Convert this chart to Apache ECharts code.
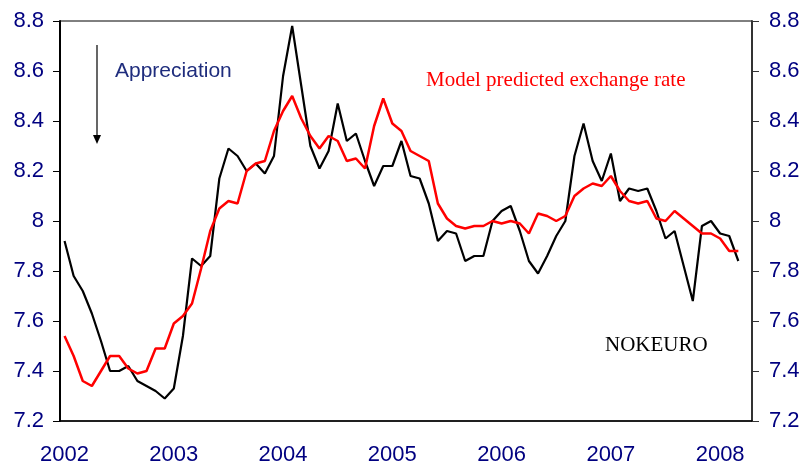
<!DOCTYPE html>
<html>
<head>
<meta charset="utf-8">
<script src="https://cdn.jsdelivr.net/npm/echarts@6/dist/echarts.min.js"></script>
<style>
  html, body { margin: 0; padding: 0; background: #fff; }
  #chart { width: 803px; height: 471px; }
</style>
</head>
<body>
<div id="chart"></div>
<script>
// monthly NOK/EUR, Jan 2002 .. Mar 2008 (axis runs to Apr 2008)
var years = ['2002', '2003', '2004', '2005', '2006', '2007', '2008'];
var months = [];
years.forEach(function (y) {
    for (var m = 1; m <= 12; m++) {
        if (months.length < 76) months.push(y + '-' + (m < 10 ? '0' + m : m));
    }
});

var actual = [
    7.92, 7.78, 7.72, 7.63, 7.52, 7.40, 7.40, 7.42, 7.36, 7.34, 7.32, 7.29,
    7.33, 7.54, 7.85, 7.82, 7.86, 8.17, 8.29, 8.26, 8.20, 8.23, 8.19, 8.26,
    8.58, 8.78, 8.54, 8.30, 8.21, 8.28, 8.47, 8.32, 8.35, 8.24, 8.14, 8.22,
    8.22, 8.32, 8.18, 8.17, 8.07, 7.92, 7.96, 7.95, 7.84, 7.86, 7.86, 8.00,
    8.04, 8.06, 7.96, 7.84, 7.79, 7.86, 7.94, 8.00, 8.26, 8.39, 8.24, 8.16,
    8.27, 8.08, 8.13, 8.12, 8.13, 8.04, 7.93, 7.96, 7.82, 7.68, 7.98, 8.00,
    7.95, 7.94, 7.84
];
var predicted = [
    7.54, 7.46, 7.36, 7.34, 7.40, 7.46, 7.46, 7.41, 7.39, 7.40, 7.49, 7.49,
    7.59, 7.62, 7.67, 7.81, 7.96, 8.05, 8.08, 8.07, 8.20, 8.23, 8.24, 8.36,
    8.44, 8.50, 8.41, 8.34, 8.29, 8.34, 8.32, 8.24, 8.25, 8.21, 8.38, 8.49,
    8.39, 8.36, 8.28, 8.26, 8.24, 8.07, 8.01, 7.98, 7.97, 7.98, 7.98, 8.00,
    7.99, 8.00, 7.99, 7.95, 8.03, 8.02, 8.00, 8.02, 8.10, 8.13, 8.15, 8.14,
    8.18, 8.12, 8.08, 8.07, 8.08, 8.01, 8.00, 8.04, 8.01, 7.98, 7.95, 7.95,
    7.93, 7.88, 7.88
];

var navy = '#000080';
var chart = echarts.init(document.getElementById('chart'));
chart.setOption({
    animation: false,
    backgroundColor: '#fff',
    grid: { left: 60, right: 51, top: 21, bottom: 50, show: true, borderColor: '#000', borderWidth: 1 },
    xAxis: {
        type: 'category', data: months, boundaryGap: true,
        axisLine: { lineStyle: { color: '#000', width: 1.5 } },
        axisTick: { interval: 11, inside: true, length: 6, lineStyle: { color: '#444' } },
        axisLabel: {
            interval: 11, margin: 23, color: navy, fontSize: 22, fontFamily: 'Liberation Sans',
            formatter: function (v) { return v.slice(0, 4); }
        },
        splitLine: { show: false }
    },
    yAxis: [{
        type: 'value', min: 7.2, max: 8.8, interval: 0.2, position: 'left',
        axisLine: { show: true, lineStyle: { color: '#000', width: 2 } },
        axisTick: { show: true, length: 7, lineStyle: { color: '#000' } },
        axisLabel: { margin: 16, color: navy, fontSize: 22, fontFamily: 'Liberation Sans' },
        splitLine: { show: false }
    }, {
        type: 'value', min: 7.2, max: 8.8, interval: 0.2, position: 'right',
        axisLine: { show: true, lineStyle: { color: '#333', width: 2 } },
        axisTick: { show: true, length: 7, lineStyle: { color: '#333' } },
        axisLabel: { margin: 17, color: navy, fontSize: 22, fontFamily: 'Liberation Sans' },
        splitLine: { show: false }
    }],
    series: [{
        name: 'NOKEURO', type: 'line', data: actual, symbol: 'none',
        lineStyle: { color: '#000', width: 2.2 }, z: 3
    }, {
        name: 'Model predicted exchange rate', type: 'line', data: predicted, symbol: 'none',
        lineStyle: { color: '#ff0000', width: 2.5 }, z: 4
    }],
    graphic: [
        { type: 'line', shape: { x1: 97, y1: 45, x2: 97, y2: 137 }, style: { stroke: '#000', lineWidth: 1.2 } },
        { type: 'polygon', shape: { points: [[93, 135], [101, 135], [97, 144]] }, style: { fill: '#000' } },
        { type: 'text', left: 115, top: 61, style: { text: 'Appreciation', fill: '#1f2d7d', font: '21px "Liberation Sans"' } },
        { type: 'text', left: 426, top: 70, style: { text: 'Model predicted exchange rate', fill: '#ff0000', font: '21px "Liberation Serif"' } },
        { type: 'text', left: 605, top: 335, style: { text: 'NOKEURO', fill: '#000', font: '21px "Liberation Serif"' } }
    ]
});
</script>
</body>
</html>
